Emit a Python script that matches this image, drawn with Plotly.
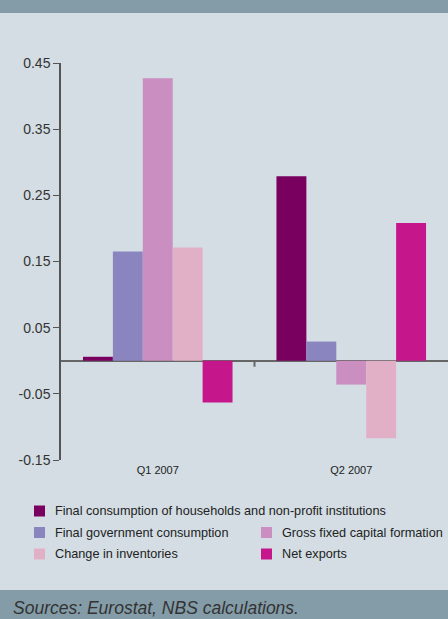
import plotly.graph_objects as go

categories = ["Q1 2007", "Q2 2007"]
series_names = [
    "Final consumption of households and non-profit institutions",
    "Final government consumption",
    "Gross fixed capital formation",
    "Change in inventories",
    "Net exports",
]
series_values = [
    [0.006, 0.279],
    [0.165, 0.029],
    [0.427, -0.036],
    [0.171, -0.117],
    [-0.063, 0.208],
]
series_colors = ["#7A0060", "#8A85BF", "#CA8EC1", "#E2B0C6", "#C5168C"]
y_ticks = [-0.15, -0.05, 0.05, 0.15, 0.25, 0.35, 0.45]
source_text = "Sources: Eurostat, NBS calculations."

# legend layout (row, column) for each series
legend_rows = [0, 1, 1, 2, 2]
legend_cols = [0, 0, 1, 0, 1]
row_px = [511, 532.5, 554]
col_px = [39.5, 266.5]

W, H = 448, 619
ML, MR, MT, MB = 61, 0, 63, 159
pw = W - ML - MR
ph = H - MT - MB

def px_x(p):
    return (p - ML) / pw

def px_y(p):
    return (H - MB - p) / ph

fig = go.Figure()
for name, vals, col in zip(series_names, series_values, series_colors):
    fig.add_trace(go.Bar(x=categories, y=vals, name=name, marker=dict(color=col, line=dict(width=0))))

BG = "#D3DDE3"
BAR = "#849CA8"
font_main = "Liberation Sans, Arial, sans-serif"

shapes = [
    dict(type="rect", xref="paper", yref="paper", x0=px_x(0), x1=px_x(W), y0=px_y(13), y1=px_y(0),
         fillcolor=BAR, line=dict(width=0), layer="below"),
    dict(type="rect", xref="paper", yref="paper", x0=px_x(0), x1=px_x(W), y0=px_y(H), y1=px_y(590),
         fillcolor=BAR, line=dict(width=0), layer="below"),
    dict(type="line", xref="x", yref="y", x0=0.5, x1=0.5, y0=0, y1=-0.009,
         line=dict(color="#666", width=2)),
]
annotations = [
    dict(text=source_text, xref="paper", yref="paper", x=px_x(11), y=px_y(608),
         xanchor="left", yanchor="middle", showarrow=False,
         font=dict(family=font_main, size=17.5, color="#333", style="italic")),
]
half = 5.5
for name, col, r, c in zip(series_names, series_colors, legend_rows, legend_cols):
    cx, cy = col_px[c], row_px[r]
    shapes.append(dict(type="rect", xref="paper", yref="paper",
                       x0=px_x(cx - half), x1=px_x(cx + half),
                       y0=px_y(cy + half), y1=px_y(cy - half),
                       fillcolor=col, line=dict(width=0)))
    annotations.append(dict(text=name, xref="paper", yref="paper", x=px_x(cx + 13.5), y=px_y(cy),
                            xanchor="left", yanchor="middle", showarrow=False,
                            font=dict(family=font_main, size=12.7, color="#222")))

fig.update_layout(
    width=W, height=H,
    margin=dict(l=ML, r=MR, t=MT, b=MB),
    paper_bgcolor=BG, plot_bgcolor=BG,
    barmode="group", bargap=0.227, bargroupgap=0,
    showlegend=False,
    xaxis=dict(showline=False, ticks="", showgrid=False, zeroline=False,
               tickfont=dict(family=font_main, size=11, color="#222"), ticklabelstandoff=2),
    yaxis=dict(range=[-0.15, 0.45], tickvals=y_ticks, ticktext=[f"{v:.2f}" for v in y_ticks],
               showgrid=False, showline=True, linecolor="#555", linewidth=1.5,
               ticks="outside", ticklen=6, tickcolor="#555", tickwidth=1,
               zeroline=True, zerolinecolor="#666", zerolinewidth=2,
               tickfont=dict(family=font_main, size=14, color="#333")),
    font=dict(family=font_main),
    shapes=shapes,
    annotations=annotations,
)

fig.write_html("out.html")
